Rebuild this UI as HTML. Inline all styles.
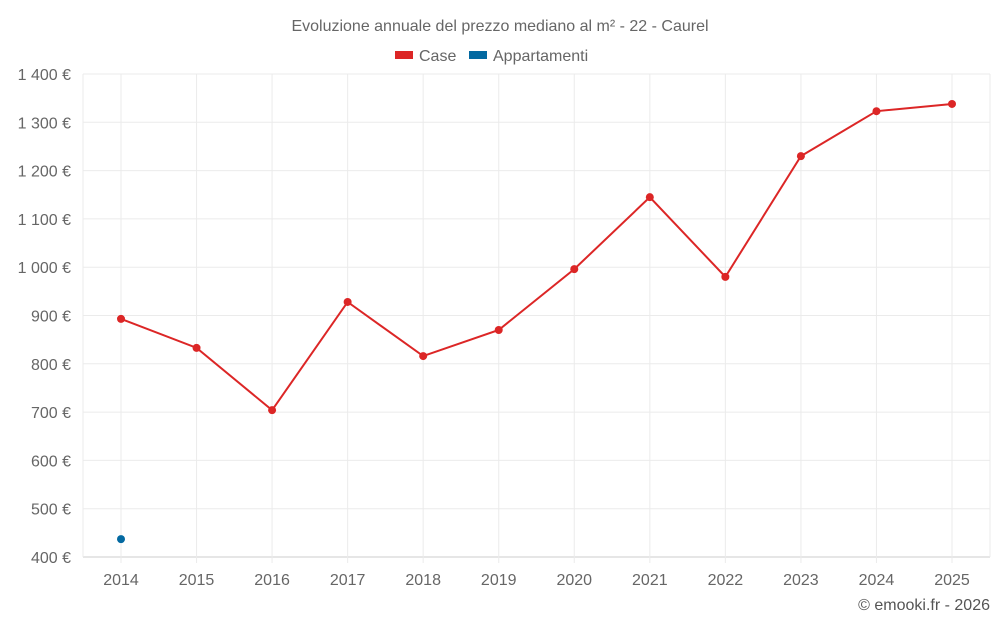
<!DOCTYPE html>
<html><head><meta charset="utf-8"><style>
body{margin:0;background:#fff;font-family:"Liberation Sans",sans-serif;}
svg text{font-family:"Liberation Sans",sans-serif;}
</style></head><body>
<svg id="chart" width="1000" height="625" xmlns="http://www.w3.org/2000/svg">
<text x="500" y="31" text-anchor="middle" font-size="16" fill="#666">Evoluzione annuale del prezzo mediano al m² - 22 - Caurel</text>
<g>
<g><rect x="395" y="51" width="18" height="8" fill="#dc2626"/><text x="419" y="61" font-size="16" fill="#666">Case</text></g>
<g><rect x="469" y="51" width="18" height="8" fill="#0369a1"/><text x="493" y="61" font-size="16" fill="#666">Appartamenti</text></g>
</g>
<g id="grid"></g>
<g id="axes"></g>
<g id="series"></g>
<text x="990" y="610" text-anchor="end" font-size="16" fill="#555">© emooki.fr - 2026</text>
</svg>
<script>
const categories=[2014,2015,2016,2017,2018,2019,2020,2021,2022,2023,2024,2025];
const caseValues=[893,833,704,928,816,870,996,1145,980,1230,1323,1338];
const apptValues=[437,null,null,null,null,null,null,null,null,null,null,null];
const yTicks=[400,500,600,700,800,900,1000,1100,1200,1300,1400];
const yTickLabels=["400 €","500 €","600 €","700 €","800 €","900 €","1 000 €","1 100 €","1 200 €","1 300 €","1 400 €"];
const NS="http://www.w3.org/2000/svg";
const L=83,R=990,T=74,B=557,yMin=400,yMax=1400;
const x=i=>121+i*(952-121)/(categories.length-1);
const y=v=>B-(v-yMin)/(yMax-yMin)*(B-T);
function mk(tag,attrs,parent){const e=document.createElementNS(NS,tag);for(const k in attrs)e.setAttribute(k,attrs[k]);parent.appendChild(e);return e;}
const grid=document.getElementById('grid'),axes=document.getElementById('axes'),series=document.getElementById('series');
yTicks.forEach((t,i)=>{
 const l=mk('line',{x1:L,x2:R,y1:y(t),y2:y(t),stroke:i===0?'#ccc':'#ebebeb'},grid);
 
 
 const tx=mk('text',{x:71,y:y(t)+6,'text-anchor':'end','font-size':16,fill:'#666'},axes);
 tx.textContent=yTickLabels[i];
 
 
});
mk('line',{x1:L,x2:L,y1:T,y2:B,stroke:'#ebebeb'},grid);
mk('line',{x1:R,x2:R,y1:T,y2:B,stroke:'#ebebeb'},grid);
categories.forEach((c,i)=>{
 const l=mk('line',{x1:x(i),x2:x(i),y1:T,y2:B+6,stroke:'#ebebeb'},grid);
 
 
 const tx=mk('text',{x:x(i),y:585,'text-anchor':'middle','font-size':16,fill:'#666'},axes);
 tx.textContent=c;
 
 
});
function draw(vals,color,name){
 let d='';vals.forEach((v,i)=>{if(v!=null)d+=(d?'L':'M')+x(i)+','+y(v);});
 const p=mk('path',{d:d,fill:'none',stroke:color,'stroke-width':2},series);
 
 
 vals.forEach((v,i)=>{if(v==null)return;
  const c=mk('circle',{cx:x(i),cy:y(v),r:4,fill:color},series);
  
  
 });
}
draw(caseValues,'#dc2626','case');
draw(apptValues,'#0369a1','appartamenti');
</script>
</body></html>
